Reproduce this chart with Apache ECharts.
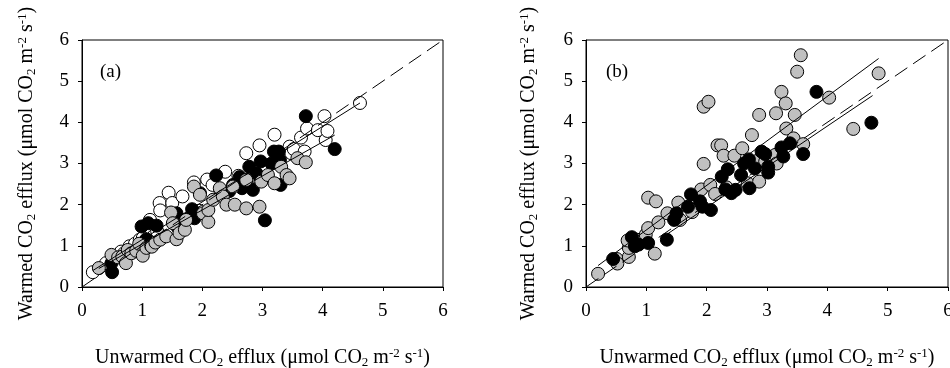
<!DOCTYPE html>
<html>
<head>
<meta charset="utf-8">
<script src="https://cdn.jsdelivr.net/npm/echarts@6/dist/echarts.min.js"></script>
<style>
  html, body { margin: 0; padding: 0; background: #fff; }
  #chart { width: 950px; height: 368px; }
</style>
</head>
<body>
<div id="chart"></div>
<script>
  // panel (a): unwarmed vs warmed efflux, three groups
  const openA = [[0.18,0.36],[0.40,0.58],[0.55,0.72],[0.65,0.86],[0.70,0.82],[0.79,0.99],[0.88,1.05],[0.96,1.15],
    [1.01,1.19],[1.05,1.12],[1.13,1.63],[1.20,1.25],[1.25,1.35],[1.29,2.04],[1.30,1.86],[1.44,2.29],[1.50,2.04],
    [1.67,2.20],[1.86,2.54],[1.95,1.85],[2.08,2.61],[2.17,2.48],[2.30,2.35],[2.38,2.80],[2.60,2.70],[2.73,3.25],
    [2.85,2.70],[2.95,3.44],[3.20,3.70],[3.45,3.41],[3.48,3.25],[3.52,3.35],[3.64,3.63],[3.70,3.29],[3.74,3.85],
    [3.92,3.81],[4.03,4.15],[4.05,3.57],[4.08,3.79],[4.62,4.47]];
  const blackA = [[0.49,0.58],[0.50,0.36],[0.99,1.47],[1.07,1.16],[1.10,1.55],[1.24,1.49],[1.57,1.79],[1.59,1.45],
    [1.83,1.89],[1.87,1.67],[1.96,2.28],[2.23,2.71],[2.45,2.33],[2.51,2.48],[2.61,2.54],[2.62,2.67],[2.66,2.40],
    [2.78,2.92],[2.84,2.36],[2.90,2.76],[2.97,3.05],[3.04,1.62],[3.15,3.00],[3.19,3.29],[3.27,3.29],[3.29,3.08],
    [3.30,2.48],[3.72,4.15],[4.20,3.35]];
  const grayA = [[0.28,0.46],[0.49,0.78],[0.60,0.72],[0.67,0.74],[0.73,0.58],[0.76,0.90],[0.82,0.82],[0.90,0.88],
    [0.95,1.05],[1.01,0.76],[1.07,0.95],[1.15,1.00],[1.16,0.98],[1.22,1.08],[1.30,1.15],[1.40,1.23],[1.48,1.81],
    [1.51,1.55],[1.57,1.16],[1.62,1.31],[1.71,1.39],[1.73,1.63],[1.86,2.44],[1.96,2.24],[2.01,1.79],[2.10,1.58],
    [2.10,1.87],[2.18,2.12],[2.29,2.40],[2.34,2.20],[2.40,2.00],[2.51,2.44],[2.54,2.00],[2.73,2.60],[2.73,1.91],
    [2.95,1.95],[2.98,2.56],[3.09,2.72],[3.20,2.52],[3.31,2.92],[3.40,2.72],[3.45,2.64],[3.58,3.13],[3.72,3.03]];
  const fitOpenA = [[0.18,0.40],[4.62,4.47]];
  const fitGrayA = [[0.28,0.45],[4.20,3.69]];

  // panel (b): two groups
  const grayB = [[0.20,0.32],[0.51,0.68],[0.52,0.57],[0.71,0.73],[0.71,0.95],[0.69,1.13],[0.84,1.15],[0.99,1.27],
    [1.03,1.43],[1.03,2.17],[1.16,2.08],[1.14,0.81],[1.20,1.57],[1.35,1.79],[1.50,1.66],[1.53,2.05],[1.56,1.63],
    [1.76,1.82],[1.91,2.37],[1.95,2.99],[1.95,4.38],[2.03,4.50],[2.06,2.48],[2.14,2.26],[2.18,3.44],[2.24,3.44],
    [2.28,3.19],[2.33,2.42],[2.46,3.19],[2.59,3.37],[2.68,2.52],[2.75,3.69],[2.83,3.06],[2.87,4.18],[2.87,2.56],
    [2.97,3.05],[3.14,3.21],[3.16,3.00],[3.15,4.22],[3.24,4.74],[3.31,4.46],[3.32,3.85],[3.44,3.61],[3.46,4.18],
    [3.50,5.23],[3.56,5.63],[3.60,3.47],[4.03,4.60],[4.43,3.84],[4.85,5.19]];
  const blackB = [[0.45,0.68],[0.76,1.21],[0.81,0.99],[0.87,1.03],[1.03,1.07],[1.34,1.15],[1.46,1.63],[1.50,1.79],
    [1.69,1.95],[1.74,2.25],[1.89,2.08],[1.93,1.95],[2.07,1.87],[2.25,2.68],[2.35,2.86],[2.31,2.37],[2.41,2.28],
    [2.48,2.36],[2.57,2.72],[2.62,3.00],[2.70,3.10],[2.71,2.40],[2.80,2.88],[2.91,3.29],[2.97,3.23],[3.02,2.78],
    [3.02,2.92],[3.24,3.39],[3.27,3.17],[3.38,3.49],[3.60,3.23],[3.82,4.74],[4.73,3.99]];
  const fitGrayB = [[0.20,0.52],[4.85,5.55]];
  const fitBlackB = [[1.24,1.18],[4.75,4.65]];

  const oneToOne = [[0,0],[6,6]];
  const ticks = [0, 1, 2, 3, 4, 5, 6];

  const serif = "'Liberation Serif', 'Times New Roman', serif";
  const rich = {
    sub: { fontSize: 13, fontFamily: serif, color: '#000', padding: [9, 0, 0, 0] },
    sup: { fontSize: 13, fontFamily: serif, color: '#000', padding: [0, 0, 9, 0] }
  };
  const nameStyle = { fontSize: 20, fontFamily: serif, color: '#000', rich: rich };
  const xName = 'Unwarmed CO{sub|2} efflux (\u03bcmol CO{sub|2} m{sup|-2} s{sup|-1})';
  const yName = 'Warmed CO{sub|2} efflux (\u03bcmol CO{sub|2} m{sup|-2} s{sup|-1})';

  function valueAxis(idx, name, gap, margin) {
    return {
      type: 'value', gridIndex: idx, min: ticks[0], max: ticks[ticks.length - 1], interval: 1,
      name: name, nameLocation: 'middle', nameGap: gap, nameTextStyle: nameStyle,
      axisLine: { lineStyle: { color: '#000', width: 1 } },
      axisTick: { show: true, inside: false, length: 4, lineStyle: { color: '#000' } },
      axisLabel: { fontSize: 19, fontFamily: serif, color: '#000', margin: margin },
      splitLine: { show: false }
    };
  }

  function dots(data, fill, xi) {
    return {
      type: 'scatter', xAxisIndex: xi, yAxisIndex: xi, data: data,
      symbol: 'circle', symbolSize: 13,
      itemStyle: { color: fill, borderColor: '#000', borderWidth: 1, opacity: 1 },
      silent: true
    };
  }

  function line(data, xi, dashed) {
    return {
      type: 'line', xAxisIndex: xi, yAxisIndex: xi, data: data, showSymbol: false, symbol: 'none',
      lineStyle: { color: '#000', width: 1, type: dashed ? [15, 7] : 'solid' },
      z: 3, silent: true
    };
  }

  const chart = echarts.init(document.getElementById('chart'));
  chart.setOption({
    animation: false,
    backgroundColor: '#fff',
    title: [
      { text: '(a)', left: 95, top: 58, textStyle: { fontSize: 19, fontWeight: 'normal', fontFamily: serif, color: '#000' } },
      { text: '(b)', left: 601, top: 58, textStyle: { fontSize: 19, fontWeight: 'normal', fontFamily: serif, color: '#000' } }
    ],
    grid: [
      { left: 82, top: 40, width: 361, height: 247, show: true, borderColor: '#000', borderWidth: 1,
        containLabel: false, outerBoundsMode: 'none' },
      { left: 586, top: 40, width: 362, height: 247, show: true, borderColor: '#000', borderWidth: 1,
        containLabel: false, outerBoundsMode: 'none' }
    ],
    xAxis: [valueAxis(0, xName, 60, 15), valueAxis(1, xName, 60, 15)],
    yAxis: [valueAxis(0, yName, 44, 13), valueAxis(1, yName, 46, 13)],
    series: [
      line(oneToOne, 0, true),
      line(fitOpenA, 0, false),
      line(fitGrayA, 0, false),
      dots(openA, '#ffffff', 0),
      dots(blackA, '#000000', 0),
      dots(grayA, '#c0c0c0', 0),
      line(oneToOne, 1, true),
      line(fitGrayB, 1, false),
      line(fitBlackB, 1, false),
      dots(grayB, '#c0c0c0', 1),
      dots(blackB, '#000000', 1)
    ]
  });
</script>
</body>
</html>
